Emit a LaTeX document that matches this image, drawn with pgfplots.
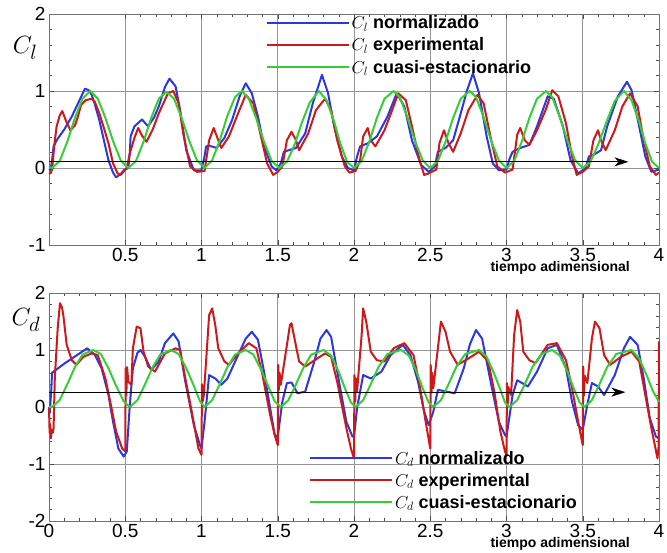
\documentclass[border=0pt]{standalone}
\usepackage{fontspec}
\setmainfont{Liberation Sans}
\usepackage{pgfplots}
\pgfplotsset{compat=1.18}
\usetikzlibrary{arrows.meta}

\definecolor{cblue}{RGB}{45,55,225}
\definecolor{cred}{RGB}{205,25,25}
\definecolor{cgreen}{RGB}{55,205,55}
\definecolor{gridgray}{RGB}{150,150,150}

\tikzset{flecha/.style={black, line width=1.3pt, -{Stealth[length=14pt,width=9pt,inset=4pt]}}}

\pgfplotsset{
  panel/.style={
    width=610pt, scale only axis, xmin=0, xmax=4,
    minor x tick num=4, minor y tick num=4,
    grid=major, grid style={gridgray, line width=0.6pt},
    tick align=inside, major tick length=5pt, minor tick length=3pt,
    tick style={black!70, line width=0.5pt},
    axis line style={black!55, line width=0.8pt},
    ticklabel style={font=\fontsize{19}{19}\selectfont},
    /pgf/number format/assume math mode=true,
    clip=false,
    legend cell align=left,
    legend image code/.code={\draw[##1] (0pt,0pt) -- (82pt,0pt);},
    legend style={draw=none, fill=none, font=\fontsize{18}{19}\selectfont\bfseries,
      anchor=north west, row sep=3.5pt},
    every axis plot/.append style={line width=2pt, line join=round},
  },
}

\begin{document}
\begin{tikzpicture}
\path[use as bounding box] (0,0) rectangle (667pt,553pt);

% ---- C_l ----
\begin{axis}[panel, at={(49pt,308pt)}, anchor=south west, height=231pt,
  ymin=-1, ymax=2, ytick={-1,0,1,2},
  xtick={0.5,1,1.5,2,2.5,3,3.5,4},
  legend style={at={(0.35,1.01)}}]
\addplot[cblue] coordinates {
(0,-0.03)(0.01,-0.02)(0.02,0.1)(0.03,0.28)(0.05,0.36)(0.1,0.5)(0.15,0.67)(0.2,0.88)(0.236,1.03)
(0.26,1.01)(0.28,0.95)(0.3,0.83)(0.33,0.62)(0.36,0.36)(0.39,0.1)(0.42,-0.06)(0.44,-0.12)(0.47,-0.08)
(0.49,-0.03)(0.52,0.0)(0.53,0.2)(0.535,0.41)(0.56,0.54)(0.61,0.63)(0.65,0.54)(0.69,0.66)(0.72,0.8)
(0.76,1.05)(0.79,1.16)(0.83,1.06)(0.86,0.75)(0.9,0.23)(0.95,-0.03)(0.999,-0.03)(1.02,0.15)(1.03,0.28)
(1.05,0.29)(1.1,0.26)(1.15,0.39)(1.2,0.62)(1.25,0.93)(1.29,1.1)(1.33,0.97)(1.37,0.67)(1.41,0.28)
(1.46,0.02)(1.49,-0.03)(1.52,0.06)(1.54,0.21)(1.57,0.23)(1.62,0.26)(1.68,0.45)(1.73,0.84)(1.79,1.21)
(1.83,0.97)(1.87,0.54)(1.92,0.15)(1.96,0.0)(2.0,-0.03)(2.02,0.15)(2.04,0.28)(2.09,0.32)(2.15,0.41)
(2.22,0.67)(2.28,0.97)(2.33,0.8)(2.38,0.36)(2.44,0.04)(2.49,-0.05)(2.53,0.02)(2.55,0.21)(2.6,0.26)
(2.65,0.36)(2.7,0.71)(2.74,1.0)(2.78,1.23)(2.82,0.97)(2.87,0.41)(2.91,0.06)(2.95,-0.03)(3.0,-0.02)
(3.02,0.12)(3.04,0.21)(3.09,0.26)(3.15,0.3)(3.2,0.54)(3.27,0.93)(3.31,0.9)(3.37,0.54)(3.42,0.1)
(3.47,-0.07)(3.52,0.0)(3.54,0.15)(3.57,0.17)(3.62,0.23)(3.66,0.54)(3.73,0.93)(3.79,1.12)(3.82,1.01)
(3.87,0.54)(3.91,0.15)(3.95,-0.05)(4.0,-0.02)
};
\addlegendentry{$C_l$ normalizado}
\addplot[cred] coordinates {
(0,-0.07)(0.01,-0.07)(0.02,-0.02)(0.035,0.3)(0.05,0.54)(0.07,0.68)(0.087,0.74)(0.11,0.62)(0.14,0.49)
(0.17,0.55)(0.19,0.67)(0.21,0.82)(0.24,0.88)(0.28,0.9)(0.3,0.86)(0.33,0.71)(0.36,0.52)(0.39,0.32)
(0.42,0.06)(0.45,-0.07)(0.47,-0.09)(0.51,0.0)(0.53,0.19)(0.56,0.39)(0.585,0.52)(0.61,0.42)(0.64,0.34)
(0.68,0.5)(0.72,0.71)(0.78,0.97)(0.815,1.0)(0.85,0.84)(0.88,0.45)(0.925,0.02)(0.97,-0.05)(1.02,-0.04)
(1.05,0.36)(1.08,0.52)(1.11,0.36)(1.13,0.26)(1.18,0.41)(1.24,0.71)(1.29,0.95)(1.34,0.84)(1.39,0.41)
(1.43,0.06)(1.47,-0.09)(1.5,-0.05)(1.53,0.02)(1.56,0.36)(1.59,0.47)(1.62,0.36)(1.64,0.23)(1.7,0.45)
(1.75,0.75)(1.81,0.9)(1.85,0.75)(1.89,0.36)(1.94,0.02)(1.97,-0.06)(2.01,-0.04)(2.04,0.1)(2.06,0.41)
(2.09,0.52)(2.11,0.36)(2.14,0.28)(2.2,0.49)(2.25,0.75)(2.29,0.97)(2.34,0.88)(2.38,0.54)(2.43,0.1)
(2.46,-0.09)(2.49,-0.07)(2.54,-0.02)(2.56,0.32)(2.59,0.49)(2.62,0.32)(2.65,0.21)(2.7,0.45)(2.75,0.75)
(2.81,0.95)(2.85,0.84)(2.9,0.36)(2.94,0.02)(2.99,-0.06)(3.04,-0.02)(3.07,0.43)(3.09,0.52)(3.12,0.36)
(3.15,0.3)(3.2,0.49)(3.26,0.77)(3.3,1.01)(3.34,0.93)(3.39,0.58)(3.43,0.15)(3.46,-0.09)(3.5,-0.05)
(3.54,0.02)(3.57,0.36)(3.6,0.49)(3.62,0.36)(3.65,0.23)(3.71,0.49)(3.76,0.8)(3.81,0.97)(3.86,0.8)
(3.9,0.36)(3.94,0.02)(3.98,-0.09)(4.0,-0.06)
};
\addlegendentry{$C_l$ experimental}
\addplot[cgreen] coordinates {
(0,0.01)(0.02,0)(0.07,0.09)(0.12,0.34)(0.17,0.65)(0.22,0.9)(0.27,1.0)(0.32,0.9)(0.37,0.65)(0.42,0.35)
(0.47,0.1)(0.52,0)(0.57,0.09)(0.62,0.34)(0.67,0.65)(0.72,0.9)(0.77,0.99)(0.82,0.9)(0.87,0.65)(0.92,0.35)
(0.97,0.1)(1.02,0)(1.07,0.1)(1.12,0.36)(1.17,0.68)(1.22,0.92)(1.265,1.0)(1.31,0.9)(1.36,0.64)(1.41,0.34)
(1.46,0.09)(1.51,0)(1.56,0.08)(1.61,0.3)(1.66,0.6)(1.71,0.85)(1.77,1.0)(1.82,0.88)(1.87,0.6)(1.91,0.32)
(1.955,0.08)(2.0,0)(2.05,0.09)(2.1,0.34)(2.15,0.65)(2.2,0.9)(2.26,1.0)(2.3,0.92)(2.35,0.66)(2.4,0.35)
(2.45,0.1)(2.5,0)(2.55,0.09)(2.6,0.34)(2.65,0.65)(2.7,0.9)(2.76,1.0)(2.8,0.92)(2.85,0.66)(2.9,0.35)
(2.95,0.1)(3.0,0)(3.05,0.09)(3.1,0.34)(3.15,0.65)(3.2,0.9)(3.26,1.0)(3.3,0.92)(3.35,0.66)(3.4,0.35)
(3.45,0.1)(3.5,0)(3.55,0.08)(3.6,0.3)(3.66,0.62)(3.71,0.87)(3.77,1.0)(3.82,0.88)(3.87,0.6)(3.91,0.32)
(3.955,0.08)(4.0,0)
};
\addlegendentry{$C_l$ cuasi-estacionario}
\draw[flecha] (axis cs:0,0.08) -- (axis cs:3.8,0.08);
\node[font=\fontsize{28}{28}\selectfont] at (rel axis cs:-0.039,0.853) {$C_l$};
\node[font=\fontsize{14}{14}\selectfont\bfseries] at ([yshift=-23pt]rel axis cs:0.838,0) {tiempo adimensional};
\end{axis}

% ---- C_d ----
\begin{axis}[panel, at={(49pt,32pt)}, anchor=south west, height=228pt,
  ymin=-2, ymax=2, ytick={-2,-1,0,1,2},
  xtick={0,0.5,1,1.5,2,2.5,3,3.5,4},
  legend style={at={(0.421,0.325)}}]
\addplot[cblue] coordinates {
(0,0.0)(0.005,-0.1)(0.015,0.3)(0.02,0.6)(0.05,0.66)(0.1,0.76)(0.15,0.85)(0.2,0.94)(0.25,1.03)(0.3,0.92)
(0.345,0.68)(0.39,0.21)(0.42,-0.26)(0.455,-0.73)(0.49,-0.87)(0.51,-0.78)(0.53,0.04)(0.55,0.68)(0.58,0.95)
(0.6,1.0)(0.63,0.88)(0.67,0.65)(0.72,0.8)(0.76,1.12)(0.815,1.29)(0.85,1.15)(0.89,0.5)(0.95,-0.32)
(0.99,-0.67)(1.0,-0.73)(1.02,-0.26)(1.05,0.56)(1.09,0.5)(1.13,0.39)(1.17,0.5)(1.24,0.91)(1.29,1.2)
(1.33,1.32)(1.37,1.18)(1.41,0.62)(1.45,-0.02)(1.48,-0.49)(1.5,-0.52)(1.53,0.09)(1.56,0.42)(1.59,0.43)
(1.63,0.24)(1.68,0.27)(1.74,0.8)(1.78,1.2)(1.82,1.35)(1.85,1.23)(1.89,0.62)(1.95,-0.26)(1.99,-0.52)
(2.0,-0.52)(2.02,-0.02)(2.06,0.56)(2.11,0.5)(2.18,0.62)(2.24,0.91)(2.32,1.09)(2.37,0.91)(2.42,0.44)
(2.46,-0.08)(2.49,-0.32)(2.52,-0.08)(2.55,0.3)(2.59,0.28)(2.66,0.24)(2.72,0.68)(2.76,1.1)(2.8,1.35)
(2.84,1.2)(2.9,0.39)(2.95,-0.26)(2.99,-0.49)(3.0,-0.52)(3.04,0.21)(3.07,0.47)(3.14,0.36)(3.2,0.62)
(3.27,1.03)(3.33,1.09)(3.39,0.68)(3.43,0.09)(3.47,-0.32)(3.5,-0.4)(3.53,0.04)(3.56,0.42)(3.6,0.36)
(3.64,0.21)(3.71,0.56)(3.77,1.03)(3.81,1.23)(3.86,1.09)(3.9,0.5)(3.94,-0.2)(3.98,-0.52)(4.0,-0.55)
};
\addlegendentry{$C_d$ normalizado}
\addplot[cred] coordinates {
(0,0.0)(0.004,-0.45)(0.008,-0.3)(0.012,-0.55)(0.018,-0.4)(0.025,-0.45)(0.03,-0.37)(0.038,0.5)(0.057,1.38)
(0.072,1.82)(0.085,1.75)(0.094,1.61)(0.116,1.09)(0.15,0.82)(0.18,0.74)(0.225,0.88)(0.28,0.94)(0.32,0.91)
(0.37,0.5)(0.41,-0.02)(0.44,-0.43)(0.48,-0.73)(0.5,-0.78)(0.503,0.68)(0.507,0.2)(0.512,0.7)(0.52,0.44)
(0.54,0.39)(0.55,1.03)(0.575,1.41)(0.6,1.38)(0.62,0.97)(0.65,0.71)(0.695,0.62)(0.76,0.94)(0.83,1.03)
(0.86,1.0)(0.89,0.56)(0.94,-0.14)(0.98,-0.73)(1.0,-0.84)(1.003,0.4)(1.008,0.1)(1.015,0.21)(1.03,0.8)
(1.05,1.61)(1.07,1.73)(1.09,1.44)(1.11,1.03)(1.15,0.8)(1.18,0.74)(1.24,0.94)(1.31,1.12)(1.36,1.03)
(1.4,0.56)(1.45,-0.14)(1.48,-0.49)(1.5,-0.67)(1.503,0.74)(1.507,0.3)(1.512,0.6)(1.52,0.39)(1.55,0.91)
(1.58,1.44)(1.59,1.47)(1.61,1.2)(1.64,0.8)(1.68,0.71)(1.73,0.8)(1.81,0.94)(1.85,0.88)(1.89,0.44)
(1.95,-0.37)(1.98,-0.73)(2.0,-0.9)(2.003,0.56)(2.008,0.1)(2.012,0.5)(2.02,0.27)(2.05,1.26)(2.06,1.73)
(2.08,1.5)(2.11,0.97)(2.15,0.82)(2.2,0.8)(2.26,1.03)(2.33,1.12)(2.39,0.91)(2.43,0.39)(2.47,-0.26)
(2.5,-0.73)(2.503,0.74)(2.508,0.25)(2.512,0.6)(2.52,0.33)(2.55,1.03)(2.57,1.5)(2.6,1.32)(2.63,0.97)
(2.68,0.74)(2.75,0.85)(2.82,0.97)(2.88,0.8)(2.92,0.27)(2.96,-0.43)(2.99,-0.78)(3.0,-0.84)(3.003,0.42)
(3.008,0.05)(3.012,0.35)(3.03,0.21)(3.05,1.26)(3.07,1.7)(3.09,1.5)(3.11,0.97)(3.15,0.82)(3.19,0.77)
(3.27,1.09)(3.33,1.12)(3.39,0.82)(3.43,0.33)(3.47,-0.26)(3.5,-0.67)(3.503,0.71)(3.508,0.2)(3.512,0.55)
(3.53,0.42)(3.56,1.2)(3.58,1.5)(3.61,1.38)(3.64,0.91)(3.68,0.74)(3.75,0.88)(3.82,0.97)(3.87,0.8)
(3.91,0.21)(3.95,-0.37)(3.99,-0.9)(3.997,-0.7)(4.0,1.15)
};
\addlegendentry{$C_d$ experimental}
\addplot[cgreen] coordinates {
(0,0)(0.02,0)(0.07,0.12)(0.12,0.4)(0.17,0.7)(0.22,0.92)(0.29,1.0)(0.34,0.93)(0.39,0.68)(0.44,0.37)
(0.49,0.1)(0.53,0)(0.58,0.12)(0.63,0.4)(0.68,0.7)(0.73,0.92)(0.8,1.0)(0.85,0.93)(0.9,0.68)(0.95,0.37)
(0.99,0.1)(1.02,0)(1.07,0.12)(1.12,0.4)(1.17,0.7)(1.22,0.92)(1.29,1.0)(1.34,0.92)(1.39,0.66)(1.44,0.35)
(1.48,0.1)(1.52,0)(1.57,0.12)(1.62,0.4)(1.67,0.7)(1.72,0.92)(1.8,1.0)(1.85,0.9)(1.9,0.62)(1.94,0.33)
(1.98,0.08)(2.01,0)(2.06,0.12)(2.11,0.4)(2.16,0.7)(2.22,0.93)(2.31,1.0)(2.36,0.9)(2.41,0.62)(2.45,0.33)
(2.49,0.08)(2.52,0)(2.57,0.12)(2.62,0.4)(2.67,0.7)(2.73,0.93)(2.82,1.0)(2.87,0.88)(2.92,0.58)(2.96,0.3)
(2.99,0.08)(3.02,0)(3.07,0.12)(3.12,0.4)(3.17,0.7)(3.23,0.93)(3.3,1.0)(3.35,0.9)(3.4,0.62)(3.44,0.33)
(3.48,0.08)(3.51,0)(3.56,0.12)(3.61,0.4)(3.66,0.7)(3.72,0.93)(3.82,1.0)(3.87,0.85)(3.92,0.55)(3.96,0.28)
(4.0,0.09)
};
\addlegendentry{$C_d$ cuasi-estacionario}
\draw[flecha] (axis cs:0,0.26) -- (axis cs:3.78,0.26);
\node[font=\fontsize{28}{28}\selectfont] at (rel axis cs:-0.038,0.88) {$C_d$};
\node[font=\fontsize{14}{14}\selectfont\bfseries] at ([yshift=-23pt]rel axis cs:0.838,0) {tiempo adimensional};
\end{axis}
\end{tikzpicture}
\end{document}
